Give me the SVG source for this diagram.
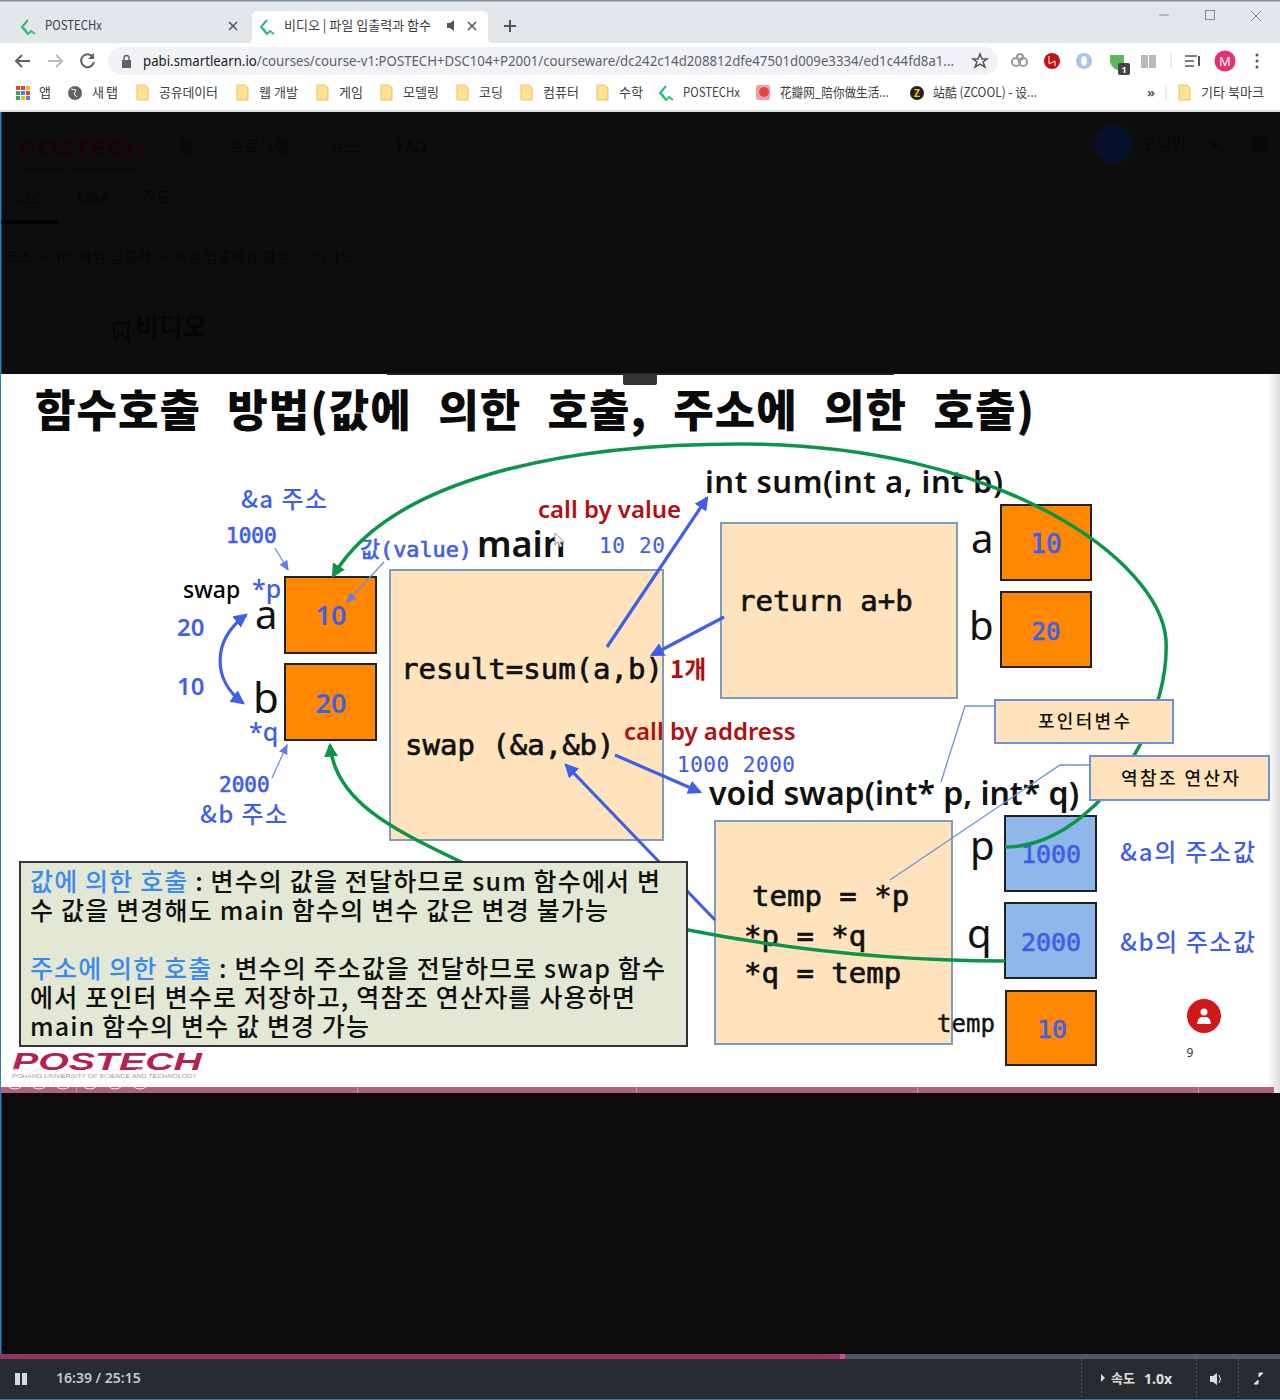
<svg xmlns="http://www.w3.org/2000/svg" width="1280" height="1400" viewBox="0 0 1280 1400">
<style>
text{font-family:"Noto Sans","Noto Sans CJK KR",sans-serif;white-space:pre}
.ui{font-size:13px;fill:#3c4043;font-family:"Noto Sans CJK KR",sans-serif}
.dim{font-size:16px;fill:#060606;font-family:"Noto Sans CJK KR",sans-serif}
.mono{font-family:"DejaVu Sans Mono","Noto Sans CJK KR",monospace;font-weight:400;stroke-width:.7}
.code{fill:#111;stroke:#111}
.kr{font-family:"Noto Sans CJK KR",sans-serif;font-weight:500}
.blue{fill:#3f5fe8}
.mono.blue{stroke:#3f5fe8}
.lite{stroke-width:.2}
.red{fill:#b01010;font-weight:600}
.org{fill:#ff8800;stroke:#222;stroke-width:2}
.sky{fill:#8fb8ea;stroke:#222;stroke-width:2}
.peach{fill:#fee3bd;stroke:#7f9dbb;stroke-width:2}
.call{fill:#fee3bd;stroke:#6f8fdc;stroke-width:2}
.green{fill:none;stroke:#0c9448;stroke-width:3.5}
.arr{fill:none;stroke:#3f5fe8;stroke-width:3.2}
.thin{fill:none;stroke:#6f8fe0;stroke-width:1.3}
.folder{fill:#fde293;stroke:#e8c35a;stroke-width:1}
.box{font-size:18px;font-weight:500;fill:#111;font-family:"Noto Sans CJK KR",sans-serif}
.note{font-size:25px;font-weight:500;fill:#111;font-family:"Noto Sans CJK KR",sans-serif}
.tick{fill:#d58aa6}
.ghost{fill:none;stroke:#efefef;stroke-width:1}
</style>
<defs>
<marker id="ab" viewBox="0 0 6 6" markerWidth="4.4" markerHeight="4.4" refX="5" refY="3" orient="auto-start-reverse"><path d="M0,0L6,3L0,6Z" fill="#3f5fe8"/></marker>
<marker id="at" markerWidth="8" markerHeight="8" refX="7" refY="4" orient="auto"><path d="M0,0.5L8,4L0,7.5Z" fill="#5f80e8"/></marker>
<marker id="ag" viewBox="0 0 6 6" markerWidth="4" markerHeight="4" refX="5" refY="3" orient="auto"><path d="M0,0L6,3L0,6Z" fill="#0c9448"/></marker>
<linearGradient id="edge" x1="0" x2="1" y1="0" y2="0"><stop offset="0" stop-color="#fff"/><stop offset="1" stop-color="#dcdcdc"/></linearGradient>
<path id="fd" class="folder" d="M0,0h8l3,3v12h-11z"/>
</defs>
<g id="browser">
<rect width="1280" height="112" fill="#fff"/>
<rect width="1280" height="43" fill="#e4e7ea"/>
<rect width="1280" height="1.5" fill="#7f8c99"/>
<path d="M248,43q4,0 4,-4v-22q0,-6 6,-6h224q6,0 6,6v22q0,4 4,4z" fill="#fff"/>
<rect x="108" y="47" width="890" height="28" rx="14" fill="#f0f2f5"/>
<rect y="110" width="1280" height="2" fill="#dcdfe2"/>
<path d="M28,20l-6,7l6,7" fill="none" stroke="#33b08a" stroke-width="2"/><path d="M24,28l4,6l3,-3l4,3" fill="none" stroke="#33c070" stroke-width="2"/>
<path d="M267,20l-6,7l6,7" fill="none" stroke="#33b08a" stroke-width="2"/><path d="M263,28l4,6l3,-3l4,3" fill="none" stroke="#33c070" stroke-width="2"/>
<text x="45" y="30" class="ui" textLength="57" lengthAdjust="spacingAndGlyphs">POSTECHx</text>
<text x="284" y="30" class="ui" textLength="147" lengthAdjust="spacingAndGlyphs">비디오 | 파일 입출력과 함수</text>
<path d="M229,22l8,8M237,22l-8,8M468,22l8,8M476,22l-8,8" stroke="#555" stroke-width="1.6"/>
<path d="M447,23h3l4,-3v11l-4,-3h-3z" fill="#555"/>
<path d="M510,20v12M504,26h12" stroke="#555" stroke-width="2"/>
<path d="M1159,15h10" stroke="#888"/><rect x="1205.500" y="10.500" width="9" height="9" fill="none" stroke="#888"/><path d="M1251,11l10,10M1261,11l-10,10" stroke="#888"/>
<path d="M30,61h-14M22,55l-6,6l6,6" fill="none" stroke="#5f6368" stroke-width="2"/>
<path d="M48,61h14M56,55l6,6l-6,6" fill="none" stroke="#bbb" stroke-width="2"/>
<path d="M93,57a6.500,6.500 0 1 0 1,5" fill="none" stroke="#5f6368" stroke-width="2"/><path d="M94,53v6h-6z" fill="#5f6368"/>
<path d="M122,60h9v8h-9z" fill="#5f6368"/><path d="M124,60v-2a2.500,2.500 0 0 1 5,0v2" fill="none" stroke="#5f6368" stroke-width="1.400"/>
<text x="143" y="66" font-size="14" fill="#5f6368" textLength="811" lengthAdjust="spacingAndGlyphs" style="font-family:'Noto Sans',sans-serif"><tspan fill="#202124">pabi.smartlearn.io</tspan>/courses/course-v1:POSTECH+DSC104+P2001/courseware/dc242c14d208812dfe47501d009e3334/ed1c44fd8a1...</text>
<path d="M980,54l2,5h5l-4,3l2,5l-5,-3l-5,3l2,-5l-4,-3h5z" fill="none" stroke="#555" stroke-width="1.500"/>
<circle cx="1016" cy="62" r="4" fill="none" stroke="#999" stroke-width="2"/><circle cx="1023" cy="62" r="4" fill="none" stroke="#999" stroke-width="2"/><circle cx="1020" cy="57" r="3" fill="none" stroke="#999" stroke-width="2"/>
<circle cx="1052" cy="61" r="8" fill="#c81010"/><path d="M1049,56v8l6,-3v5" stroke="#fff" fill="none"/>
<circle cx="1084" cy="61" r="8" fill="#a8c4e8"/><ellipse cx="1084" cy="61" rx="3" ry="5" fill="#fff"/>
<path d="M1110,55h14v7q-2,6 -7,8q-5,-2 -7,-8z" fill="#5cb85c"/>
<rect x="1118" y="63" width="12" height="12" rx="2" fill="#444"/><text x="1124" y="73" font-size="9" font-weight="700" fill="#fff" text-anchor="middle">1</text>
<path d="M1141,55h7v13h-7zM1149,55h7v13h-7z" fill="#bbb"/>
<path d="M1171,53v16" stroke="#ddd"/>
<path d="M1185,56h12M1185,61h9M1185,66h9" stroke="#555" stroke-width="1.600"/><path d="M1199,56v10" stroke="#555" stroke-width="2"/>
<circle cx="1225" cy="61" r="10.500" fill="#e6306e"/><text x="1225" y="66" font-size="13" fill="#fff" text-anchor="middle">M</text>
<circle cx="1257" cy="55" r="1.500" fill="#555"/><circle cx="1257" cy="61" r="1.500" fill="#555"/><circle cx="1257" cy="67" r="1.500" fill="#555"/>
<g>
<rect x="16" y="86" width="4" height="4" fill="#ea4335"/><rect x="21" y="86" width="4" height="4" fill="#ea4335"/><rect x="26" y="86" width="4" height="4" fill="#fbbc05"/>
<rect x="16" y="91" width="4" height="4" fill="#34a853"/><rect x="21" y="91" width="4" height="4" fill="#4285f4"/><rect x="26" y="91" width="4" height="4" fill="#ea4335"/>
<rect x="16" y="96" width="4" height="4" fill="#34a853"/><rect x="21" y="96" width="4" height="4" fill="#fbbc05"/><rect x="26" y="96" width="4" height="4" fill="#4285f4"/>
<text x="39" y="97" class="ui">앱</text>
<circle cx="75" cy="93" r="7" fill="#5f6368"/><path d="M71,89l5,1l-2,4l3,3" stroke="#fff" fill="none"/>
<text x="92" y="97" class="ui" textLength="26">새 탭</text>
<use href="#fd" x="137" y="85"/><text x="159" y="97" class="ui" textLength="59">공유데이터</text>
<use href="#fd" x="237" y="85"/><text x="259" y="97" class="ui" textLength="39">웹 개발</text>
<use href="#fd" x="317" y="85"/><text x="339" y="97" class="ui">게임</text>
<use href="#fd" x="381" y="85"/><text x="403" y="97" class="ui">모델링</text>
<use href="#fd" x="457" y="85"/><text x="479" y="97" class="ui">코딩</text>
<use href="#fd" x="521" y="85"/><text x="543" y="97" class="ui">컴퓨터</text>
<use href="#fd" x="597" y="85"/><text x="619" y="97" class="ui">수학</text>
<path d="M666,86l-6,7l6,7" fill="none" stroke="#33b08a" stroke-width="2"/><path d="M662,94l4,6l3,-3l4,3" fill="none" stroke="#33c070" stroke-width="2"/>
<text x="683" y="97" class="ui" textLength="57" lengthAdjust="spacingAndGlyphs">POSTECHx</text>
<rect x="756" y="85" width="14" height="15" rx="2" fill="#f0a0a0"/><circle cx="764" cy="92" r="5" fill="#e04848"/>
<text x="780" y="97" class="ui" textLength="109" lengthAdjust="spacingAndGlyphs">花瓣网_陪你做生活...</text>
<circle cx="917" cy="93" r="7" fill="#222"/><text x="917" y="97" font-size="10" font-weight="700" fill="#fc0" text-anchor="middle">Z</text>
<text x="933" y="97" class="ui" textLength="104" lengthAdjust="spacingAndGlyphs">站酷 (ZCOOL) - 设...</text>
<text x="1147" y="97" font-size="13" font-weight="700" fill="#555">»</text>
<path d="M1166,85v15" stroke="#ddd"/>
<use href="#fd" x="1179" y="85"/><text x="1201" y="97" class="ui" textLength="63">기타 북마크</text>
</g>
</g>
<g id="page">
<rect y="112" width="1280" height="262" fill="#0d0d0d"/>
<rect y="1093" width="1280" height="262" fill="#0b0b0b"/>
<rect y="112" width="1.500" height="1288" fill="#2b7fb5"/>
<text x="19" y="155" font-size="21" font-weight="900" font-style="italic" fill="#1a0208" textLength="126" lengthAdjust="spacingAndGlyphs" style="font-family:'Liberation Sans',sans-serif">POSTECH</text>
<text x="18" y="171" font-size="5" fill="#060606" textLength="124" lengthAdjust="spacingAndGlyphs" style="font-family:'Liberation Sans',sans-serif">POHANG UNIVERSITY OF SCIENCE AND TECHNOLOGY</text>
<text x="178" y="152" class="dim">홈</text><text x="230" y="152" class="dim">프로그램</text><text x="330" y="152" class="dim">뉴스</text><text x="397" y="152" class="dim">FAQ</text>
<text x="16" y="203" class="dim">코스</text><text x="78" y="203" class="dim">Q&amp;A</text><text x="142" y="203" class="dim">진도</text>
<rect x="1" y="220" width="58" height="4" fill="#02030a"/>
<text x="6" y="262" class="dim" textLength="347" style="font-size:14px">코스  &gt;  Ⅷ. 파일 입출력  &gt;  파일 입출력과 함수  &gt;  비디오</text>
<text x="135" y="336" font-size="26" font-weight="700" fill="#050505" style="font-family:'Noto Sans CJK KR',sans-serif">비디오</text>
<path d="M114,323h14v16l-7,-5l-7,5z" fill="none" stroke="#050505" stroke-width="2"/>
<circle cx="1113" cy="144" r="19" fill="#06122a"/>
<text x="1142" y="150" class="dim">고영인</text>
<path d="M1210,143h10l-5,5z" fill="#050505"/>
<circle cx="1259" cy="144" r="9" fill="#080808"/>
</g>
<g id="slide">
<rect x="1" y="374" width="1279" height="719" fill="#fff"/>
<rect x="1268" y="374" width="12" height="719" fill="url(#edge)"/>
<rect x="387" y="373" width="507" height="2" fill="#222"/>
<rect x="623" y="374" width="34" height="11" rx="2" fill="#333"/>
<rect x="1" y="1087" width="1273" height="6" fill="#b2607e"/>
<rect class="tick" x="76" y="1087" width="1" height="6"/><rect class="tick" x="357" y="1087" width="1" height="6"/><rect class="tick" x="636" y="1087" width="1" height="6"/><rect class="tick" x="917" y="1087" width="1" height="6"/><rect class="tick" x="1198" y="1087" width="1" height="6"/>
<text x="35" y="427" font-size="44" font-weight="900" fill="#0a0a0a" letter-spacing="1" word-spacing="15.300" style="font-family:'Noto Sans CJK KR',sans-serif">함수호출 방법(값에 의한 호출, 주소에 의한 호출)</text>
</g>
<g id="boxes">
<rect id="main" class="peach" x="390" y="570" width="273" height="270"/>
<rect id="sum" class="peach" x="721" y="523" width="236" height="175"/>
<rect id="swap" class="peach" x="715" y="821" width="237" height="223"/>
</g>
<g id="memA"><rect class="org" x="285" y="577" width="91" height="76"/><text x="331" y="625" font-size="27" class="blue" text-anchor="middle" style="font-weight:600">10</text></g>
<g id="memB"><rect class="org" x="285" y="664" width="91" height="76"/><text x="331" y="713" font-size="27" class="blue" text-anchor="middle" style="font-weight:600">20</text></g>
<g id="sumA"><rect class="org" x="1001" y="505" width="90" height="75"/><text x="1046" y="553" font-size="26" class="mono blue" text-anchor="middle">10</text></g>
<g id="sumB"><rect class="org" x="1001" y="592" width="90" height="75"/><text x="1046" y="640" font-size="24" class="mono blue" text-anchor="middle">20</text></g>
<g id="swapP"><rect class="sky" x="1005" y="816" width="91" height="75"/><text x="1051" y="863" font-size="25" class="mono blue" text-anchor="middle">1000</text></g>
<g id="swapQ"><rect class="sky" x="1005" y="903" width="91" height="75"/><text x="1051" y="951" font-size="25" class="mono blue" text-anchor="middle">2000</text></g>
<g id="temp"><rect class="org" x="1006" y="991" width="90" height="74"/><text x="1052" y="1038" font-size="25" class="mono blue" text-anchor="middle">10</text></g>
<g id="labels">
<text x="241" y="508" font-size="24" class="kr blue" textLength="86">&amp;a 주소</text>
<text x="226" y="543" font-size="21" class="mono blue">1000</text>
<text x="183" y="598" font-size="23" style="font-weight:500">swap</text>
<text x="252" y="598" font-size="25" class="blue" style="font-weight:500">*p</text>
<text x="255" y="629" font-size="40" fill="#111">a</text>
<text x="253" y="713" font-size="42" fill="#111">b</text>
<text x="249" y="741" font-size="25" class="blue" style="font-weight:500">*q</text>
<text x="177" y="636" font-size="24" class="blue" style="font-weight:600">20</text>
<text x="177" y="695" font-size="24" class="blue" style="font-weight:600">10</text>
<text x="219" y="792" font-size="21" class="mono blue">2000</text>
<text x="200" y="823" font-size="24" class="kr blue" textLength="87">&amp;b 주소</text>
<text x="360" y="557" font-size="22" class="mono blue" textLength="112" lengthAdjust="spacingAndGlyphs">값(value)</text>
<text x="477" y="557" font-size="36" fill="#111" style="font-weight:600">main</text>
<text x="538" y="518" font-size="24" class="red">call by value</text>
<text x="599" y="553" font-size="21" class="mono blue lite" textLength="66">10 20</text>
<text x="705" y="493" font-size="31" fill="#111" textLength="298" style="font-weight:600">int sum(int a, int b)</text>
<text x="971" y="553" font-size="40" fill="#111">a</text>
<text x="969" y="640" font-size="40" fill="#111">b</text>
<text x="738" y="611" font-size="29" class="mono code">return a+b</text>
<text x="401" y="679" font-size="29" class="mono code">result=sum(a,b)</text>
<text x="405" y="755" font-size="29" class="mono code">swap (&amp;a,&amp;b)</text>
<text x="670" y="678" font-size="24" class="red" style="font-family:'Noto Sans CJK KR',sans-serif">1개</text>
<text x="624" y="740" font-size="24" class="red">call by address</text>
<text x="677" y="772" font-size="21" class="mono blue lite" textLength="118">1000 2000</text>
<text x="709" y="805" font-size="32" fill="#111" textLength="370" style="font-weight:600">void swap(int* p, int* q)</text>
<text x="752" y="906" font-size="29" class="mono code">temp = *p</text>
<text x="744" y="946" font-size="29" class="mono code">*p = *q</text>
<text x="744" y="983" font-size="29" class="mono code">*q = temp</text>
<text x="937" y="1032" font-size="24" class="mono code" textLength="58" style="stroke-width:.4">temp</text>
<text x="970" y="860" font-size="40" fill="#111">p</text>
<text x="967" y="948" font-size="40" fill="#111">q</text>
<text x="1120" y="861" font-size="24" class="kr blue" textLength="135">&amp;a의 주소값</text>
<text x="1120" y="951" font-size="24" class="kr blue" textLength="135">&amp;b의 주소값</text>
<text x="1190" y="1057" font-size="12" fill="#333" text-anchor="middle">9</text>
<circle cx="1204" cy="1016" r="17" fill="#d01818"/>
<path d="M1197,1024q1,-7 5,-7l4,0q4,0 5,7z" fill="#fff"/><circle cx="1204" cy="1012" r="3.500" fill="#fff"/>
<path d="M555,533l0,12l3,-3l2,5l2,-1l-2,-4l4,0z" fill="#fff" stroke="#999" stroke-width="1"/>
</g>
<g id="connectors">
<path class="green" marker-end="url(#ag)" d="M1005,847C1060,847 1110,800 1140,745C1155,715 1168,680 1166,640C1160,560 1000,444 740,444C560,444 390,480 333,576"/>
<path class="green" marker-end="url(#ag)" d="M1005,961C900,961 790,950 688,930C600,912 520,888 457,860C390,828 335,800 330,745"/>
<path class="arr" marker-end="url(#ab)" d="M607,647L707,498"/>
<path class="arr" marker-end="url(#ab)" d="M724,617L652,655"/>
<path class="arr" marker-end="url(#ab)" d="M615,755L700,792"/>
<path class="arr" marker-end="url(#ab)" d="M715,920L566,765"/>
<path class="arr" marker-start="url(#ab)" marker-end="url(#ab)" d="M246,615C212,640 212,680 243,703"/>
<path class="thin" marker-end="url(#at)" d="M275,548L288,570"/>
<path class="thin" marker-end="url(#at)" d="M384,562L347,602"/>
<path class="thin" marker-end="url(#at)" d="M272,778L287,745"/>
<path class="thin" d="M995,706H965L941,782"/>
<path class="thin" d="M1090,765H1060L890,880"/>
</g>
<g id="callout1"><rect class="call" x="995" y="700" width="178" height="43"/><text x="1038" y="728" class="box" textLength="92">포인터변수</text></g>
<g id="callout2"><rect class="call" x="1090" y="756" width="179" height="44"/><text x="1121" y="785" class="box" textLength="118">역참조 연산자</text></g>
<g id="noteBox">
<rect x="20" y="862" width="667" height="184" fill="#e3e8d5" stroke="#333" stroke-width="2"/>
<text x="30" y="891" class="note" textLength="630"><tspan fill="#3a8af0">값에 의한 호출</tspan> : 변수의 값을 전달하므로 sum 함수에서 변</text>
<text x="30" y="920" class="note" textLength="578">수 값을 변경해도 main 함수의 변수 값은 변경 불가능</text>
<text x="30" y="978" class="note" textLength="635"><tspan fill="#3a8af0">주소에 의한 호출</tspan> : 변수의 주소값을 전달하므로 swap 함수</text>
<text x="30" y="1007" class="note" textLength="605">에서 포인터 변수로 저장하고, 역참조 연산자를 사용하면</text>
<text x="30" y="1036" class="note" textLength="339">main 함수의 변수 값 변경 가능</text>
</g>
<g id="logo">
<text x="12" y="1070" font-size="23" font-weight="900" font-style="italic" fill="#b3234f" textLength="190" lengthAdjust="spacingAndGlyphs" style="font-family:'Liberation Sans',sans-serif">POSTECH</text>
<text x="12" y="1078" font-size="6" fill="#999" textLength="185" lengthAdjust="spacingAndGlyphs" style="font-family:'Liberation Sans',sans-serif;font-style:italic">POHANG UNIVERSITY OF SCIENCE AND TECHNOLOGY</text>
<circle class="ghost" cx="15" cy="1079" r="10"/><circle class="ghost" cx="39" cy="1079" r="10"/><circle class="ghost" cx="63" cy="1079" r="10"/><circle class="ghost" cx="90" cy="1079" r="10"/><circle class="ghost" cx="115" cy="1079" r="10"/><circle class="ghost" cx="140" cy="1079" r="10"/>
</g>
<g id="player">
<rect y="1355" width="1280" height="45" fill="#292c2f"/>
<rect y="1354" width="1280" height="5" fill="#4f5a5f"/>
<rect y="1354" width="842" height="5" fill="#8c3a63"/>
<rect x="840" y="1354" width="5" height="5" fill="#d24d8c"/>
<rect x="15" y="1373" width="5" height="12" fill="#d8d8d8"/><rect x="22" y="1373" width="5" height="12" fill="#d8d8d8"/>
<text x="56" y="1383" font-size="14" font-weight="600" fill="#c8c8c8">16:39 / 25:15</text>
<path d="M1081.500,1359v41M1196.500,1359v41M1238.500,1359v41" stroke="#555" stroke-dasharray="2 2"/>
<path d="M1101,1374l4,4l-4,4z" fill="#ddd"/>
<text x="1111" y="1383" font-size="13" font-weight="600" fill="#e0e0e0" style="font-family:'Noto Sans CJK KR',sans-serif">속도</text>
<text x="1144" y="1384" font-size="14" font-weight="700" fill="#e0e0e0">1.0x</text>
<path d="M1210,1376h3l4,-3v12l-4,-3h-3z" fill="#ddd"/><path d="M1219,1375q3,4 0,8" stroke="#ddd" fill="none"/>
<path d="M1254,1384l4,-4v4zM1263,1373l-4,4v-4z" fill="#ddd" stroke="#ddd"/>
<rect y="1399" width="1280" height="1" fill="#2b7fb5"/>
</g>
</svg>
